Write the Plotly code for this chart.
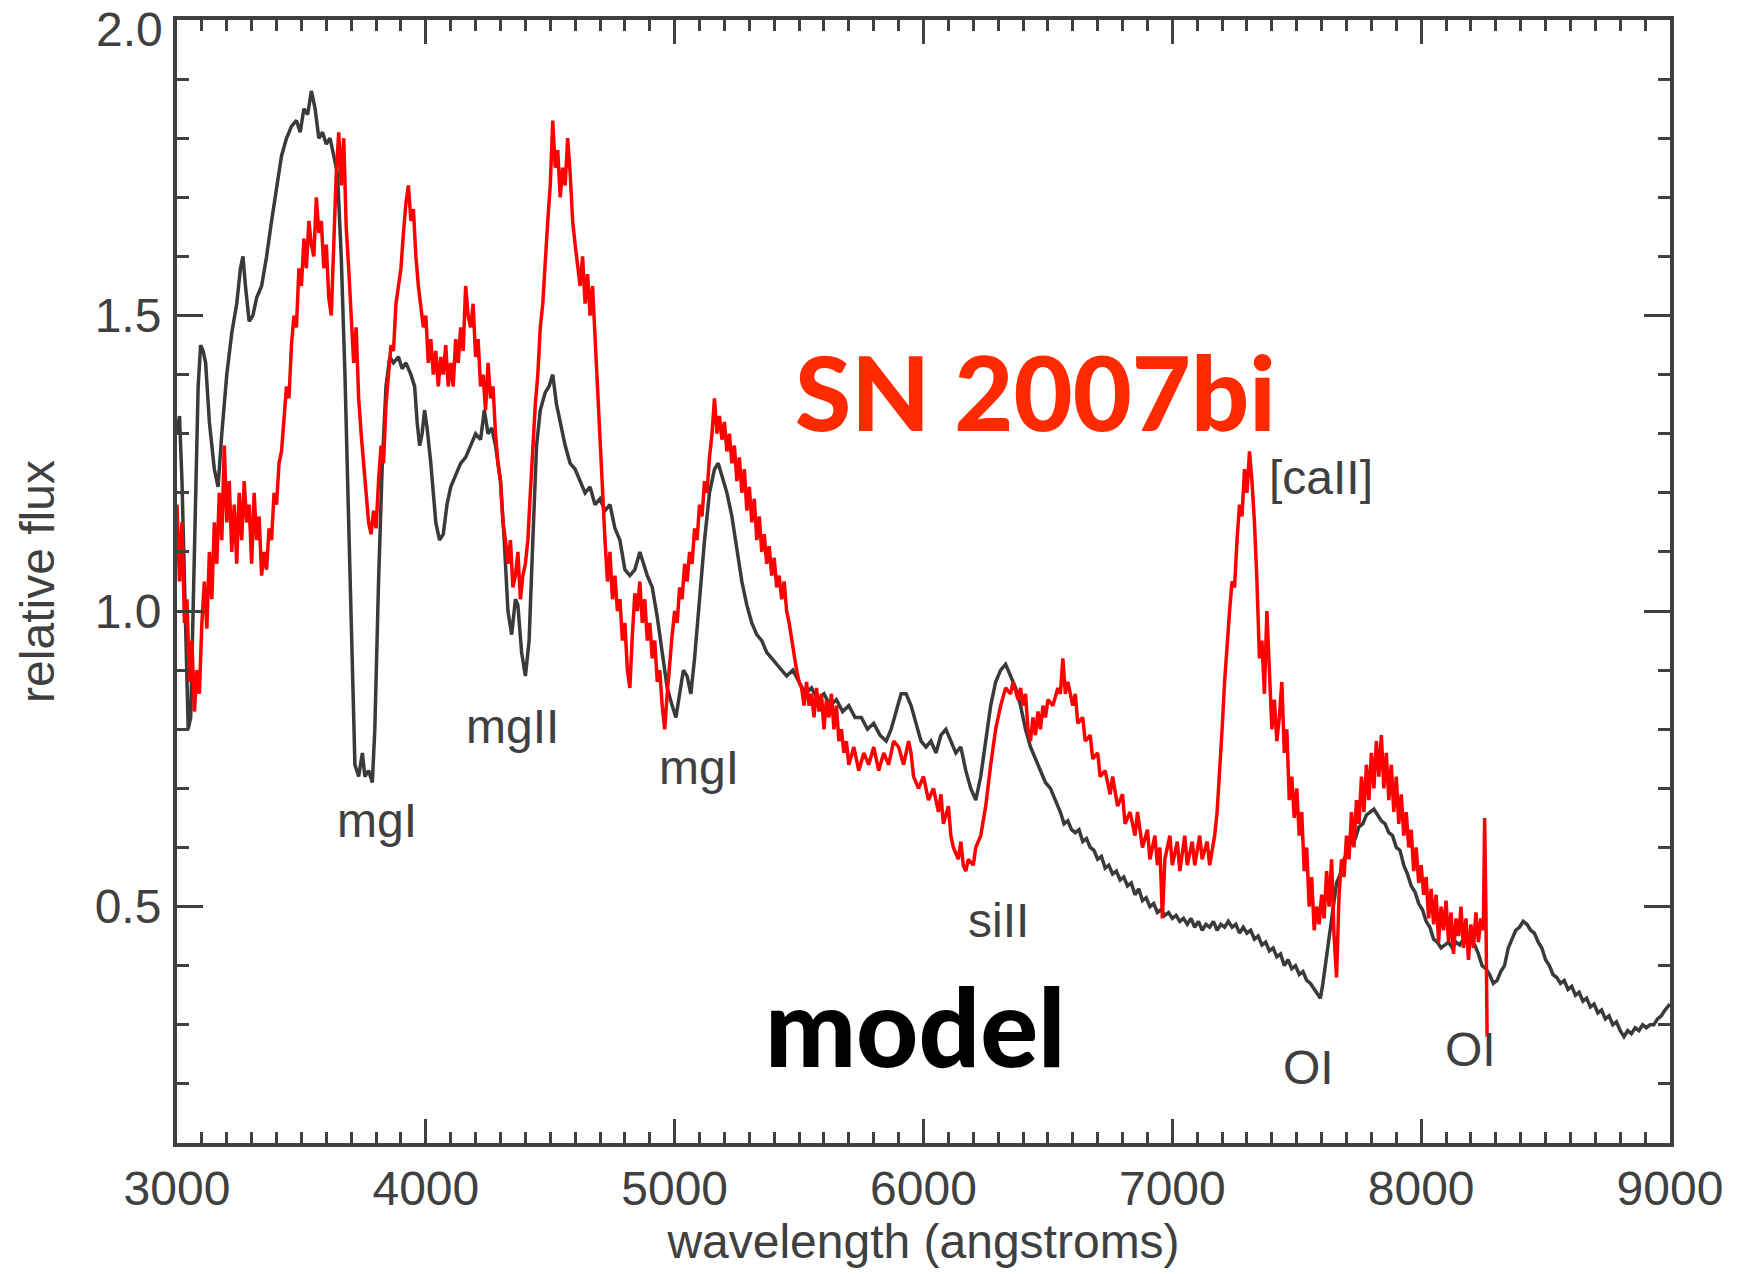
import plotly.graph_objects as go

# ---- model spectrum (black) ----
model_wl = [3000,3010,3020,3035,3045,3055,3070,3085,3095,3105,3115,3130,3150,3165,3180,3200,3220,3240,3255,3265,
            3275,3290,3305,3320,3340,3360,3380,3400,3420,3440,3460,3480,3495,3510,3525,3540,3555,3570,3585,3600,
            3615,3630,3645,3660,3675,3690,3705,3715,3730,3745,3755,3770,3785,3795,3810,3825,3840,3855,3870,3890,
            3905,3920,3940,3955,3965,3975,3985,3995,4005,4020,4040,4055,4070,4085,4100,4120,4140,4160,4180,4200,
            4220,4235,4250,4265,4280,4300,4315,4330,4345,4360,4370,4385,4400,4415,4430,4445,4460,4480,4495,4510,
            4525,4540,4560,4580,4600,4620,4640,4660,4680,4700,4720,4740,4760,4780,4800,4820,4840,4860,4875,4890,
            4910,4930,4950,4970,4990,5005,5020,5035,5050,5065,5080,5100,5120,5140,5160,5175,5190,5210,5230,5250,
            5270,5290,5310,5330,5350,5370,5390,5410,5430,5450,5475,5500,5525,5550,5575,5600,5625,5650,5675,5700,
            5725,5750,5775,5800,5825,5850,5870,5890,5910,5930,5950,5970,5990,6010,6030,6050,6070,6090,6110,6130,
            6150,6170,6190,6210,6230,6250,6270,6290,6310,6330,6350,6370,6390,6410,6430,6450,6470,6490,6510,6530,
            6550,6565,6580,6595,6610,6625,6640,6655,6670,6685,
            6700,6715,6730,6745,6760,6775,6790,6805,6820,6835,
            6850,6865,6880,6895,6910,6925,6940,6955,6970,6985,
            7000,7015,7030,7045,7060,7075,7090,7105,7120,7135,
            7150,7165,7180,7195,7210,7225,7240,7255,7270,7285,
            7300,7315,7330,7345,7360,7375,7390,7405,7420,7435,
            7450,7465,7480,7495,7510,7525,7540,7555,7570,7585,
            7595,7605,7615,7630,7645,7660,7675,7690,7705,7720,
            7735,7750,7765,7780,7795,7810,7825,7840,7855,7870,
            7885,7900,7915,7930,7945,7960,7975,7990,8005,8020,
            8035,8050,8065,8080,8095,8110,8125,8140,8155,8170,
            8185,8200,8215,8230,8245,8260,8275,8290,8305,8320,
            8335,8350,8365,8380,8395,8410,8425,8440,8455,8470,
            8485,8500,8515,8530,8545,8560,8575,8590,8605,8620,
            8635,8650,8665,8680,8695,8710,8725,8740,8755,8770,
            8785,8800,8815,8830,8845,8860,8875,8890,8905,8920,
            8935,8950,8965,8980,9000]
model_flux = [1.30,1.33,1.22,0.95,0.80,0.82,1.10,1.38,1.45,1.44,1.42,1.32,1.24,1.21,1.30,1.40,1.47,1.52,1.58,1.60,
              1.55,1.49,1.50,1.53,1.55,1.60,1.66,1.72,1.77,1.80,1.82,1.83,1.81,1.85,1.84,1.88,1.85,1.80,1.81,1.79,
              1.80,1.77,1.74,1.60,1.40,1.15,0.90,0.74,0.72,0.76,0.72,0.73,0.71,0.80,1.05,1.25,1.38,1.43,1.42,1.43,
              1.41,1.42,1.40,1.38,1.32,1.28,1.30,1.34,1.31,1.25,1.15,1.12,1.13,1.18,1.21,1.23,1.25,1.26,1.28,1.30,
              1.29,1.34,1.30,1.31,1.28,1.22,1.12,1.00,0.96,1.02,1.01,0.93,0.89,0.95,1.12,1.28,1.34,1.37,1.38,1.40,
              1.35,1.32,1.28,1.25,1.24,1.22,1.20,1.21,1.18,1.19,1.17,1.18,1.14,1.12,1.07,1.06,1.07,1.10,1.08,1.06,
              1.04,0.99,0.93,0.87,0.84,0.82,0.86,0.90,0.89,0.86,0.92,1.02,1.12,1.20,1.24,1.25,1.23,1.20,1.16,1.10,
              1.05,1.01,0.98,0.96,0.95,0.93,0.92,0.91,0.90,0.89,0.90,0.88,0.86,0.87,0.85,0.86,0.84,0.85,0.83,0.84,
              0.82,0.82,0.80,0.81,0.79,0.78,0.80,0.83,0.86,0.86,0.84,0.81,0.78,0.77,0.78,0.76,0.79,0.80,0.78,0.76,
              0.77,0.73,0.70,0.68,0.72,0.78,0.84,0.88,0.90,0.91,0.89,0.87,0.84,0.80,0.77,0.75,0.73,0.71,0.70,0.68,
              0.66,0.64,0.645,0.63,0.625,0.63,0.61,0.615,0.60,0.595,
              0.58,0.585,0.565,0.57,0.555,0.56,0.545,0.55,0.535,0.54,
              0.52,0.53,0.51,0.515,0.50,0.505,0.49,0.495,0.485,0.49,
              0.48,0.485,0.475,0.48,0.47,0.48,0.465,0.475,0.46,0.47,
              0.465,0.475,0.46,0.47,0.465,0.475,0.465,0.47,0.455,0.465,
              0.455,0.46,0.445,0.45,0.435,0.44,0.425,0.43,0.415,0.42,
              0.40,0.41,0.395,0.40,0.385,0.39,0.375,0.37,0.36,0.35,
              0.345,0.37,0.40,0.45,0.50,0.54,0.555,0.58,0.595,0.61,
              0.615,0.635,0.64,0.655,0.66,0.665,0.655,0.645,0.64,0.625,
              0.62,0.60,0.595,0.57,0.555,0.535,0.525,0.505,0.495,0.475,
              0.465,0.445,0.44,0.43,0.435,0.44,0.43,0.44,0.435,0.445,
              0.44,0.45,0.435,0.42,0.40,0.395,0.385,0.37,0.375,0.39,
              0.40,0.43,0.445,0.46,0.465,0.475,0.47,0.46,0.455,0.44,
              0.43,0.41,0.40,0.385,0.38,0.37,0.375,0.36,0.365,0.35,
              0.355,0.34,0.345,0.33,0.335,0.32,0.325,0.31,0.315,0.30,
              0.305,0.29,0.28,0.29,0.285,0.295,0.29,0.30,0.295,0.30,
              0.30,0.31,0.315,0.325,0.335]

# ---- observed spectrum SN 2007bi (red) ----
obs_wl = [3000,3010,3020,3030,3040,3050,3060,3070,3080,3090,3100,3110,3120,3130,3140,3150,3160,3170,3180,3190,
          3200,3210,3220,3230,3240,3250,3260,3270,3280,3290,3300,3310,3320,3330,3340,3350,3360,3370,3380,3390,
          3400,3410,3420,3430,3440,3450,3460,3470,3480,3490,3500,3510,3520,3530,3540,3550,3560,3570,3580,3590,
          3600,3610,3620,3630,3640,3650,3660,3670,3680,3690,3700,3710,3720,3730,3740,3750,3760,3770,3780,3790,
          3800,3810,3820,3830,3840,3850,3860,3870,3880,3890,3900,3910,3920,3930,3940,3950,3960,3970,3980,3990,
          4000,4010,4020,4030,4040,4050,4060,4070,4080,4090,4100,4110,4120,4130,4140,4150,4160,4170,4180,4190,
          4200,4210,4220,4230,4240,4250,4260,4270,4280,4290,4300,4310,4320,4330,4340,4350,4360,4370,4380,4390,
          4400,4410,4420,4430,4440,4450,4460,4470,4480,4490,4500,4510,4520,4530,4540,4550,4560,4570,4580,4590,
          4600,4610,4620,4630,4640,4650,4660,4670,4680,4690,4700,4710,4720,4730,4740,4750,4760,4770,4780,4790,
          4800,4810,4820,4830,4840,4850,4860,4870,4880,4890,4900,4910,4920,4930,4940,4950,4960,4970,4980,4990,
          5000,5010,5020,5030,5040,5050,5060,5070,5080,5090,5100,5110,5120,5130,5140,5150,5160,5170,5180,5190,
          5200,5210,5220,5230,5240,5250,5260,5270,5280,5290,5300,5310,5320,5330,5340,5350,5360,5370,5380,5390,
          5400,5410,5420,5430,5440,5450,5460,5470,5480,5490,5500,5510,5520,5530,5540,5550,5560,5570,5580,5590,
          5600,5610,5620,5630,5640,5650,5660,5670,5680,5690,5700,5720,5740,5760,5780,5800,5820,5840,5860,5880,
          5900,5920,5940,5950,5960,5980,6000,6020,6040,6060,6070,6080,6100,6110,6120,6140,6150,6160,6170,6180,
          6200,6210,6230,6250,6270,6290,6310,6330,6350,6360,6380,6390,6400,6410,6420,6430,6440,6450,6460,6470,
          6480,6490,6500,6520,6540,6550,6560,6570,6580,6600,6610,6620,6640,6650,6670,6680,6700,6710,6730,6750,
          6760,6780,6800,6810,6830,6850,6860,6880,6900,6910,6930,6940,6950,6960,6970,6990,7000,7020,7030,7050,
          7060,7080,7090,7110,7120,7140,7150,7170,7180,7190,7200,7210,7220,7230,7240,7250,7260,7270,7280,7290,
          7300,7310,7320,7330,7340,7350,7360,7370,7380,7390,7400,7410,7420,7430,7440,7450,7460,7470,7480,7490,
          7500,7510,7520,7530,7540,7550,7560,7570,7580,7590,7600,7610,7620,7630,7640,7650,7660,7670,7680,7690,
          7700,7710,7720,7730,7740,7750,7760,7770,7780,7790,7800,7810,7820,7830,7840,7850,7860,7870,7880,7890,
          7900,7910,7920,7930,7940,7950,7960,7970,7980,7990,8000,8010,8020,8030,8040,8050,8060,8070,8080,8090,
          8100,8110,8120,8130,8140,8150,8160,8170,8180,8190,8200,8210,8220,8230,8240,8250,8255,8260,8265]
obs_flux = [1.18,1.05,1.15,0.98,1.02,0.88,0.95,0.83,0.90,0.86,0.98,1.05,0.97,1.10,1.02,1.15,1.08,1.20,1.12,1.28,
            1.15,1.22,1.10,1.18,1.08,1.20,1.12,1.22,1.15,1.18,1.08,1.20,1.12,1.16,1.06,1.10,1.07,1.14,1.12,1.20,
            1.18,1.25,1.27,1.33,1.38,1.36,1.45,1.50,1.48,1.58,1.55,1.63,1.58,1.66,1.62,1.60,1.70,1.64,1.66,1.58,
            1.62,1.53,1.50,1.62,1.74,1.81,1.72,1.80,1.65,1.58,1.50,1.42,1.48,1.36,1.30,1.24,1.20,1.15,1.13,1.17,
            1.14,1.22,1.28,1.25,1.35,1.40,1.45,1.44,1.52,1.55,1.58,1.64,1.69,1.72,1.66,1.68,1.60,1.55,1.52,1.48,
            1.50,1.42,1.46,1.40,1.44,1.38,1.43,1.40,1.45,1.38,1.42,1.38,1.46,1.42,1.48,1.44,1.55,1.50,1.48,1.52,
            1.43,1.46,1.38,1.40,1.34,1.42,1.36,1.38,1.30,1.25,1.22,1.15,1.12,1.08,1.12,1.04,1.06,1.10,1.02,1.06,
            1.08,1.12,1.20,1.28,1.35,1.40,1.48,1.52,1.60,1.66,1.72,1.83,1.75,1.78,1.70,1.75,1.72,1.80,1.74,1.66,
            1.62,1.58,1.55,1.60,1.52,1.57,1.50,1.55,1.46,1.38,1.30,1.20,1.12,1.05,1.10,1.02,1.06,1.00,1.02,0.95,
            0.98,0.90,0.87,0.96,1.03,1.00,1.05,0.98,1.02,0.95,0.98,0.92,0.95,0.88,0.90,0.84,0.80,0.86,0.92,0.96,
            1.00,0.98,1.04,1.02,1.08,1.05,1.10,1.08,1.14,1.12,1.18,1.16,1.22,1.20,1.26,1.30,1.36,1.30,1.33,1.29,
            1.32,1.27,1.30,1.25,1.28,1.22,1.26,1.20,1.24,1.17,1.21,1.15,1.19,1.12,1.16,1.10,1.13,1.08,1.11,1.06,
            1.09,1.04,1.06,1.02,1.05,1.00,0.98,0.95,0.92,0.90,0.88,0.87,0.84,0.88,0.84,0.86,0.82,0.87,0.83,0.86,
            0.80,0.85,0.82,0.86,0.80,0.84,0.78,0.80,0.76,0.78,0.74,0.77,0.73,0.76,0.74,0.77,0.73,0.76,0.74,0.78,
            0.77,0.74,0.78,0.76,0.72,0.70,0.72,0.68,0.70,0.66,0.69,0.64,0.67,0.62,0.60,0.58,0.61,0.57,0.56,0.58,
            0.57,0.60,0.62,0.67,0.74,0.80,0.84,0.87,0.86,0.88,0.85,0.87,0.84,0.86,0.80,0.78,0.82,0.79,0.83,0.80,
            0.84,0.82,0.85,0.84,0.87,0.86,0.92,0.86,0.88,0.84,0.86,0.81,0.82,0.78,0.79,0.75,0.76,0.72,0.73,0.69,
            0.72,0.67,0.69,0.64,0.66,0.62,0.66,0.60,0.63,0.58,0.62,0.57,0.60,0.48,0.58,0.62,0.57,0.61,0.56,0.62,
            0.57,0.61,0.57,0.62,0.58,0.61,0.57,0.62,0.66,0.72,0.80,0.88,0.95,1.00,1.05,1.04,1.12,1.18,1.16,1.24,
            1.20,1.27,1.22,1.15,1.05,0.92,0.95,0.86,1.00,0.88,0.80,0.85,0.78,0.82,0.88,0.76,0.80,0.68,0.72,0.65,
            0.70,0.62,0.66,0.56,0.60,0.50,0.55,0.46,0.50,0.47,0.52,0.48,0.56,0.50,0.58,0.45,0.38,0.52,0.58,0.55,
            0.62,0.58,0.66,0.60,0.68,0.64,0.72,0.66,0.74,0.68,0.76,0.70,0.78,0.72,0.79,0.70,0.76,0.68,0.74,0.66,
            0.72,0.64,0.69,0.62,0.66,0.60,0.63,0.56,0.60,0.54,0.57,0.52,0.55,0.48,0.53,0.47,0.52,0.44,0.50,0.46,
            0.51,0.44,0.49,0.42,0.48,0.45,0.50,0.43,0.48,0.41,0.47,0.43,0.49,0.44,0.48,0.46,0.65,0.50,0.28]

x_tickvals = [3000, 4000, 5000, 6000, 7000, 8000, 9000]
y_tickvals = [0.5, 1.0, 1.5, 2.0]
# the top label ("2.0") is drawn as an annotation just below the frame corner, as in the reference
y_ticktext = ["0.5", "1.0", "1.5", ""]
y_top_label = "2.0"

line_labels = ["mgI", "mgII", "mgI", "siII", "[caII]", "OI", "OI"]
label_x = [3802, 4350, 5098, 6301, 7597, 7548, 8198]
label_y = [0.645, 0.805, 0.735, 0.477, 1.226, 0.227, 0.259]

AX = "#404040"
FONT = "Liberation Sans"

fig = go.Figure()
fig.add_trace(go.Scatter(x=model_wl, y=model_flux, mode="lines",
                         line=dict(color="#3a3a3a", width=3.5), showlegend=False))
fig.add_trace(go.Scatter(x=obs_wl, y=obs_flux, mode="lines",
                         line=dict(color="#ff0000", width=3.5), showlegend=False))

for t, xv, yv in zip(line_labels, label_x, label_y):
    fig.add_annotation(x=xv, y=yv, text=t, showarrow=False, xanchor="center", yanchor="middle",
                       font=dict(family=FONT, size=48, color=AX))

fig.add_annotation(xref="paper", yref="y", x=0, y=y_tickvals[-1], text=y_top_label, showarrow=False,
                   xanchor="right", yanchor="top", xshift=-12, yshift=19,
                   font=dict(family=FONT, size=48, color=AX))

fig.add_annotation(x=6452, y=1.372, text="SN 2007bi", showarrow=False,
                   xanchor="center", yanchor="middle",
                   font=dict(family="Lato", size=102, color="#ff2a00", weight=900))
fig.add_annotation(x=5966, y=0.300, text="model", showarrow=False,
                   xanchor="center", yanchor="middle",
                   font=dict(family="Lato", size=108, color="#000000", weight=900))

fig.update_layout(
    width=1737, height=1274,
    margin=dict(l=177, r=67, t=20, b=131),
    paper_bgcolor="white", plot_bgcolor="white",
    font=dict(family=FONT, size=48, color=AX),
    xaxis=dict(range=[3000, 9000], tickvals=x_tickvals, ticks="inside", ticklen=24, tickwidth=3,
               tickcolor=AX, showline=True, linewidth=4, linecolor=AX, mirror="allticks",
               showgrid=False, zeroline=False, ticklabelstandoff=0, ticklabeloverflow="allow",
               automargin=False,
               minor=dict(dtick=100, ticks="inside", ticklen=11, tickwidth=3, tickcolor=AX, showgrid=False),
               title=dict(text="wavelength (angstroms)", standoff=6, font=dict(size=48, color=AX))),
    yaxis=dict(range=[0.1, 2.0], tickvals=y_tickvals, ticktext=y_ticktext, ticks="inside", ticklen=26,
               tickwidth=3, tickcolor=AX, showline=True, linewidth=4, linecolor=AX, mirror="allticks",
               showgrid=False, zeroline=False, ticklabelstandoff=2, ticklabeloverflow="allow",
               automargin=False,
               minor=dict(dtick=0.1, tick0=0.0, ticks="inside", ticklen=12, tickwidth=3, tickcolor=AX, showgrid=False),
               title=dict(text="relative flux", standoff=26, font=dict(size=48, color=AX))),
)

fig.write_html("out.html")
